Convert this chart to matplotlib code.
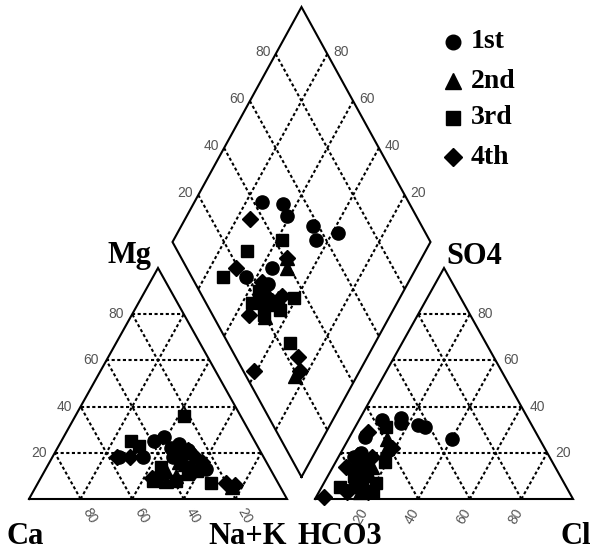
import matplotlib
matplotlib.use("Agg")
import matplotlib.pyplot as plt
import numpy as np

# ---- sample data (meq % of cations and anions), one entry per sample ----
campaign = (["1st"] * 11) + (["2nd"] * 8) + (["3rd"] * 10) + (["4th"] * 11)

ca   = [56, 47, 34, 28, 31, 25, 39, 34, 35, 33, 30,
        34, 32, 19, 43, 38, 46, 41, 32,
        46, 48, 29, 26, 22, 39, 29, 42, 33, 48,
        57, 30, 52, 20, 25, 17, 28, 45, 33, 48, 27]
mg   = [18, 18, 27, 21, 14, 13, 25, 22, 18, 17, 24,
        16, 20, 5, 8, 10, 9, 12, 15,
        23, 25, 12, 7, 36, 8, 20, 14, 11, 8,
        18, 22, 18, 7, 16, 6, 21, 10, 18, 9, 19]
nak  = [26, 35, 39, 51, 55, 62, 36, 44, 47, 50, 46,
        50, 48, 76, 49, 52, 45, 47, 53,
        31, 27, 59, 67, 42, 53, 51, 44, 56, 44,
        25, 48, 30, 73, 59, 77, 51, 45, 49, 43, 54]
hco3 = [57, 49, 50, 42, 44, 34, 79, 67, 76, 75, 72,
        61, 59, 81, 74, 80, 76, 78, 71,
        73, 88, 65, 76, 57, 74, 80, 77, 73, 82,
        65, 59, 81, 76, 96, 78, 74, 86, 77, 74, 69]
so4  = [34, 35, 33, 31, 32, 26, 10, 27, 18, 15, 20,
        22, 26, 3, 12, 9, 13, 8, 14,
        16, 5, 16, 3, 31, 12, 10, 13, 7, 5,
        29, 22, 14, 9, 1, 3, 16, 3, 11, 19, 18]
cl   = [9, 16, 17, 27, 24, 40, 11, 6, 6, 10, 8,
        17, 15, 16, 14, 11, 11, 14, 15,
        11, 7, 19, 21, 12, 14, 10, 10, 20, 13,
        6, 19, 5, 15, 3, 19, 10, 11, 12, 7, 13]

campaigns = ["1st", "2nd", "3rd", "4th"]
campaign_markers = ["o", "^", "s", "D"]
tick_values = [20, 40, 60, 80]

# ---- layout of the Piper diagram (drawing units) ----
LX0, RX0, BASE, SIDE, TRI_H = 29.0, 315.0, 499.0, 258.0, 231.0
DIA_BX, DIA_BY, DIA_H = 301.5, 477.0, 235.0


def cat_xy(c, m, n):
    c, m, n = np.asarray(c, float), np.asarray(m, float), np.asarray(n, float)
    t = c + m + n
    m, n = m / t, n / t
    return LX0 + SIDE * (n + m / 2), BASE - TRI_H * m


def an_xy(h, s, c):
    h, s, c = np.asarray(h, float), np.asarray(s, float), np.asarray(c, float)
    t = h + s + c
    s, c = s / t, c / t
    return RX0 + SIDE * (c + s / 2), BASE - TRI_H * s


def dia_xy(n, h):
    n, h = np.asarray(n, float), np.asarray(h, float)
    return DIA_BX + SIDE * (n - h) / 2, DIA_BY - DIA_H * (2 - n - h)


fig = plt.figure(figsize=(5.94, 5.57), dpi=100)
ax = fig.add_axes([0, 0, 1, 1])
ax.set_xlim(0, 594)
ax.set_ylim(557, 0)
ax.axis("off")

edge_kw = dict(color="black", lw=1.5, solid_joinstyle="miter", zorder=3)
grid_kw = dict(color="black", lw=1.5, ls=(0, (1.5, 1.2)), zorder=2)
tick_kw = dict(color="#555555", fontsize=10, family="Liberation Sans")


def seg(p, q, **kw):
    ax.plot([p[0], q[0]], [p[1], q[1]], **kw)


# ---- cation triangle ----
pts = [cat_xy(100, 0, 0), cat_xy(0, 0, 100), cat_xy(0, 100, 0), cat_xy(100, 0, 0)]
ax.plot([p[0] for p in pts], [p[1] for p in pts], **edge_kw)
for k in tick_values:
    seg(cat_xy(100 - k, k, 0), cat_xy(0, k, 100 - k), **grid_kw)
    seg(cat_xy(100 - k, 0, k), cat_xy(0, 100 - k, k), **grid_kw)
    seg(cat_xy(k, 0, 100 - k), cat_xy(k, 100 - k, 0), **grid_kw)
    x, y = cat_xy(100 - k, k, 0)
    ax.text(x - 8, y, str(k), ha="right", va="center", **tick_kw)
    x, y = cat_xy(k, 0, 100 - k)
    ax.text(x + 9, y + 17, str(k), ha="center", va="center", rotation=-60, **tick_kw)

# ---- anion triangle ----
pts = [an_xy(100, 0, 0), an_xy(0, 0, 100), an_xy(0, 100, 0), an_xy(100, 0, 0)]
ax.plot([p[0] for p in pts], [p[1] for p in pts], **edge_kw)
for k in tick_values:
    seg(an_xy(100 - k, k, 0), an_xy(0, k, 100 - k), **grid_kw)
    seg(an_xy(100 - k, 0, k), an_xy(0, 100 - k, k), **grid_kw)
    seg(an_xy(k, 0, 100 - k), an_xy(k, 100 - k, 0), **grid_kw)
    x, y = an_xy(0, k, 100 - k)
    ax.text(x + 8, y, str(k), ha="left", va="center", **tick_kw)
    x, y = an_xy(100 - k, 0, k)
    ax.text(x - 6, y + 17, str(k), ha="center", va="center", rotation=60, **tick_kw)

# ---- central diamond ----
pts = [dia_xy(1, 1), dia_xy(1, 0), dia_xy(0, 0), dia_xy(0, 1), dia_xy(1, 1)]
ax.plot([p[0] for p in pts], [p[1] for p in pts], **edge_kw)
for k in tick_values:
    f = k / 100
    seg(dia_xy(f, 0), dia_xy(f, 1), **grid_kw)
    seg(dia_xy(0, f), dia_xy(1, f), **grid_kw)
    x, y = dia_xy(0, 1 - f)
    ax.text(x - 5, y - 2, str(k), ha="right", va="center", **tick_kw)
    x, y = dia_xy(1 - f, 0)
    ax.text(x + 6, y - 2, str(k), ha="left", va="center", **tick_kw)

# ---- samples ----
camp = np.array(campaign)
ca_a, mg_a, nak_a = np.array(ca), np.array(mg), np.array(nak)
hc_a, so_a, cl_a = np.array(hco3), np.array(so4), np.array(cl)
sizes = {"o": 9.5, "^": 10, "s": 9, "D": 8}
for name, mk in zip(campaigns, campaign_markers):
    sel = camp == name
    cx, cy = cat_xy(ca_a[sel], mg_a[sel], nak_a[sel])
    axx, ayy = an_xy(hc_a[sel], so_a[sel], cl_a[sel])
    n = nak_a[sel] / (ca_a[sel] + mg_a[sel] + nak_a[sel])
    h = hc_a[sel] / (hc_a[sel] + so_a[sel] + cl_a[sel])
    dx, dy = dia_xy(n, h)
    for X, Y in ((cx, cy), (axx, ayy), (dx, dy)):
        ax.plot(X, Y, ls="none", marker=mk, ms=sizes[mk], color="black",
                mec="black", zorder=5)

# ---- legend ----
leg_y = [42, 81, 118, 157]
for name, mk, y in zip(campaigns, campaign_markers, leg_y):
    ax.plot([453], [y], ls="none", marker=mk, ms=sizes[mk] + 1, color="black", zorder=5)
    ax.text(471, y, name, ha="left", va="center", fontsize=20,
            family="Liberation Serif", fontweight="bold")

# ---- axis titles ----
title_kw = dict(fontsize=22, family="Liberation Serif", fontweight="bold", va="center")
ax.text(129, 256, "Mg", ha="center", **title_kw)
ax.text(474, 256, "SO4", ha="center", **title_kw)
ax.text(6, 537, "Ca", ha="left", **title_kw)
ax.text(248, 537, "Na+K", ha="center", **title_kw)
ax.text(340, 537, "HCO3", ha="center", **title_kw)
ax.text(561, 537, "Cl", ha="left", **title_kw)

fig.savefig("out.png", dpi=100, facecolor="white")
